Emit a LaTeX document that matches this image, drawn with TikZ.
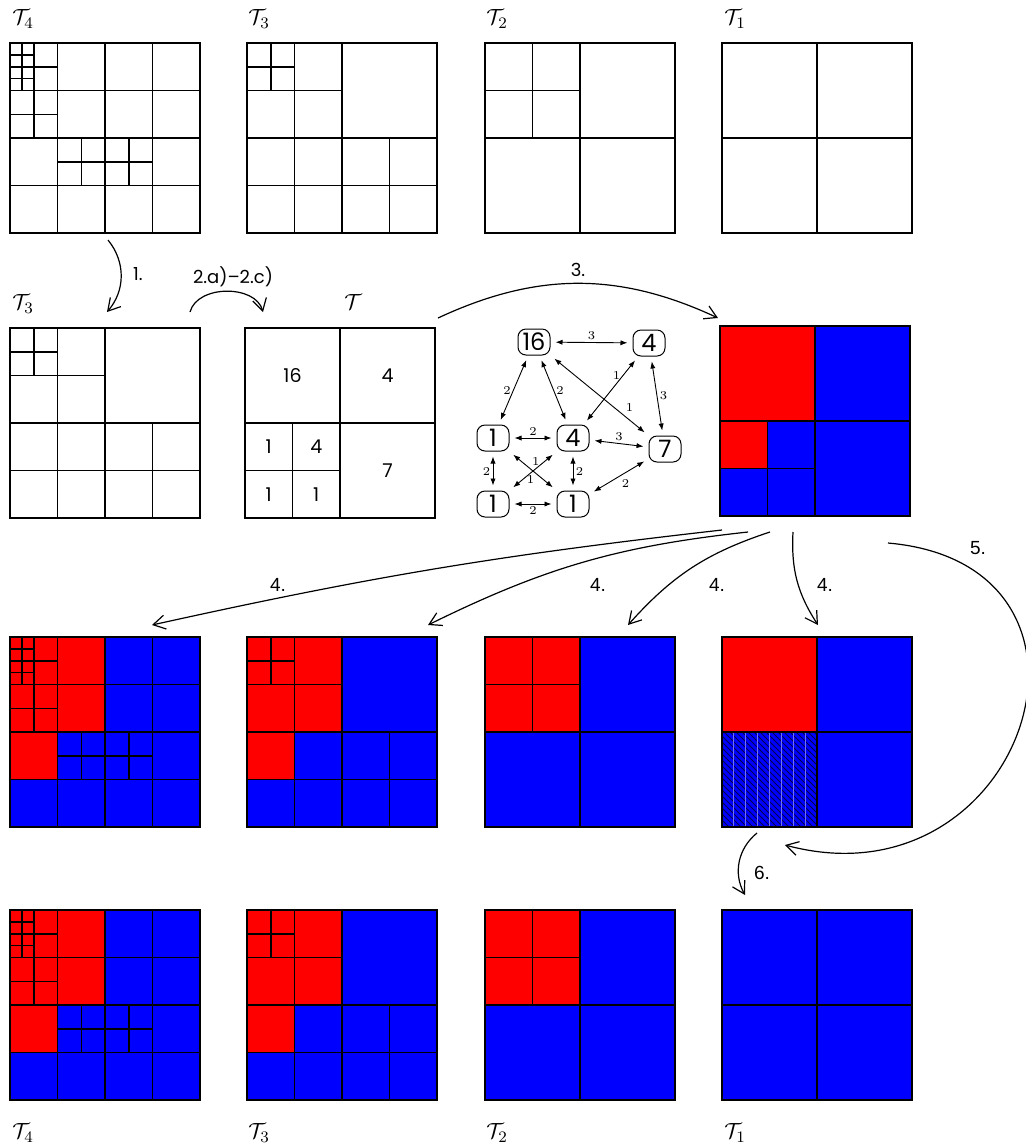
\documentclass[tikz,border=0pt]{standalone}
\usepackage{fontspec}
\usepackage{amsmath}
\usepackage{tikz}
\usetikzlibrary{arrows.meta,patterns,positioning}
\newfontfamily\numfont{Poppins}
\newfontfamily\stepfont{Liberation Sans}
\definecolor{gridblue}{RGB}{115,115,240}
\definecolor{hatchblue}{RGB}{0,0,80}

% cells of the trees: column/row/size/colour on a 16x16 raster
\def\cellsFour{0/0/1/red,1/0/1/red,0/1/1/red,1/1/1/red,0/2/1/red,1/2/1/red,0/3/1/red,1/3/1/red,2/0/2/red,2/2/2/red,4/0/4/red,0/4/2/red,2/4/2/red,0/6/2/red,2/6/2/red,4/4/4/red,8/0/4/blue,12/0/4/blue,8/4/4/blue,12/4/4/blue,0/8/4/red,4/8/2/blue,6/8/2/blue,4/10/2/blue,6/10/2/blue,0/12/4/blue,4/12/4/blue,8/8/2/blue,10/8/2/blue,8/10/2/blue,10/10/2/blue,12/8/4/blue,8/12/4/blue,12/12/4/blue}
\def\cellsThree{0/0/2/red,2/0/2/red,0/2/2/red,2/2/2/red,4/0/4/red,0/4/4/red,4/4/4/red,8/0/8/blue,0/8/4/red,4/8/4/blue,0/12/4/blue,4/12/4/blue,8/8/4/blue,12/8/4/blue,8/12/4/blue,12/12/4/blue}
\def\cellsTwo{0/0/4/red,4/0/4/red,0/4/4/red,4/4/4/red,8/0/8/blue,0/8/8/blue,8/8/8/blue}
\def\cellsOne{0/0/8/red,8/0/8/blue,0/8/8/blue,8/8/8/blue}
\def\cellsOneBlue{0/0/8/blue,8/0/8/blue,0/8/8/blue,8/8/8/blue}
\def\cellsMerged{0/0/8/red,8/0/8/blue,0/8/4/red,4/8/4/blue,0/12/4/blue,4/12/4/blue,8/8/8/blue}

\newcommand{\plaintree}[3]{%
  \begin{scope}[shift={(#1,-#2)}, panel]
    \foreach \cx/\cy/\cs/\cc in #3 {\draw[cellline] (\cx,\cy) rectangle ++(\cs,\cs);}
  \end{scope}}
\newcommand{\colortree}[3]{%
  \begin{scope}[shift={(#1,-#2)}, panel]
    \foreach \cx/\cy/\cs/\cc in #3 {\fill[\cc] (\cx,\cy) rectangle ++(\cs,\cs);}
    \foreach \cx/\cy/\cs/\cc in #3 {\draw[cellline] (\cx,\cy) rectangle ++(\cs,\cs);}
  \end{scope}}

\begin{document}
\begin{tikzpicture}[x=0.5pt, y=0.5pt]
    \tikzset{
        cellline/.style={draw=black, line width=0.75pt},
        panel/.style={x=5.9375pt, y=-5.9375pt},
        treelabel/.style={anchor=west, inner sep=0pt, font=\fontsize{11}{11}\selectfont},
        steplabel/.style={font=\stepfont\fontsize{9.5}{9.5}\selectfont},
        steplabelb/.style={font=\numfont\fontsize{9}{9}\selectfont},
        wnum/.style={font=\numfont\fontsize{9.5}{9.5}\selectfont},
        gnode/.style={
            draw, rounded corners=4pt,
            minimum width=16pt, minimum height=13pt,
            inner sep=1.5pt, line width=0.5pt,
            font=\numfont\fontsize{12}{12}\selectfont
        },
        gedge/.style={
            {Latex[length=3.5pt,width=2.6pt]}-{Latex[length=3.5pt,width=2.6pt]},
            line width=0.45pt, shorten <=2.5pt, shorten >=2.5pt
        },
        glabel/.style={font=\fontsize{6}{6}\selectfont, inner sep=1.2pt},
        proc/.style={-{Straight Barb[length=6pt,width=7pt]}, line width=0.6pt},
    }
    \useasboundingbox (0,0) rectangle (1026,-1148);

    % ==== Row 1: the input trees ====
    \node[treelabel] (t4a) at (12,-19) {$\mathcal{T}_4$};
    \node[treelabel] (t3a) at (248,-19) {$\mathcal{T}_3$};
    \node[treelabel] (t2a) at (486,-19) {$\mathcal{T}_2$};
    \node[treelabel] (t1a) at (724,-19) {$\mathcal{T}_1$};
    \plaintree{10}{43}{\cellsFour}
    \plaintree{247}{43}{\cellsThree}
    \plaintree{485}{43}{\cellsTwo}
    \plaintree{722}{43}{\cellsOne}

    % ==== Row 2: coarsest tree, weights, graph, partition ====
    \node[treelabel] (t3b) at (12,-304) {$\mathcal{T}_3$};
    \node[treelabel, anchor=center] (tw) at (353,-302) {$\mathcal{T}$};
    \plaintree{10}{328}{\cellsThree}
    \plaintree{245}{328}{\cellsMerged}
    \begin{scope}[shift={(245,-328)}, panel]
        \node[wnum] (w16) at (4,4) {16};
        \node[wnum] (w4a) at (12,4) {4};
        \node[wnum] (w1a) at (2,10) {1};
        \node[wnum] (w4b) at (6,10) {4};
        \node[wnum] (w1b) at (2,14) {1};
        \node[wnum] (w1c) at (6,14) {1};
        \node[wnum] (w7) at (12,12) {7};
    \end{scope}

    \node[gnode] (g16) at (534,-342) {16};
    \node[gnode] (g4a) at (649,-343) {4};
    \node[gnode] (g1a) at (493,-438) {1};
    \node[gnode] (g4b) at (573,-438) {4};
    \node[gnode] (g7) at (665,-449) {7};
    \node[gnode] (g1b) at (493,-504) {1};
    \node[gnode] (g1c) at (573,-504) {1};
    \draw[gedge] (g16) -- node[glabel, above] {3} (g4a);
    \draw[gedge] (g16) -- node[glabel, left] {2} (g1a);
    \draw[gedge] (g16) -- node[glabel, right] {2} (g4b);
    \draw[gedge] (g16) -- node[glabel, pos=.74, above right] {1} (g7);
    \draw[gedge] (g4b) -- node[glabel, pos=.72, left] {1} (g4a);
    \draw[gedge] (g4a) -- node[glabel, right] {3} (g7);
    \draw[gedge] (g1a) -- node[glabel, above] {2} (g4b);
    \draw[gedge] (g4b) -- node[glabel, above] {3} (g7);
    \draw[gedge] (g1a) -- node[glabel, left] {2} (g1b);
    \draw[gedge] (g4b) -- node[glabel, right] {2} (g1c);
    \draw[gedge] (g1a) -- node[glabel, pos=.42, above right] {1} (g1c);
    \draw[gedge] (g4b) -- node[glabel, pos=.55, below] {1} (g1b);
    \draw[gedge] (g1b) -- node[glabel, below] {2} (g1c);
    \draw[gedge] (g1c) -- node[glabel, below right] {2} (g7);

    \colortree{720}{326}{\cellsMerged}

    % ==== Row 3: partitioned trees ====
    \colortree{10}{637}{\cellsFour}
    \colortree{247}{637}{\cellsThree}
    \colortree{485}{637}{\cellsTwo}
    \colortree{722}{637}{\cellsOne}
    \begin{scope}[shift={(722,-637)}, panel]
        \fill[pattern=north west lines, pattern color=hatchblue] (0,8) rectangle (8,16);
        \draw[gridblue, line width=0.4pt] (0,8) grid[step=1] (8,16);
        \draw[cellline] (0,8) rectangle (8,16);
        \draw[cellline] (0,0) rectangle (16,16);
    \end{scope}

    % ==== Row 4: result ====
    \colortree{10}{910}{\cellsFour}
    \colortree{247}{910}{\cellsThree}
    \colortree{485}{910}{\cellsTwo}
    \colortree{722}{910}{\cellsOneBlue}
    \node[treelabel] (t4d) at (12,-1133) {$\mathcal{T}_4$};
    \node[treelabel] (t3d) at (248,-1133) {$\mathcal{T}_3$};
    \node[treelabel] (t2d) at (486,-1133) {$\mathcal{T}_2$};
    \node[treelabel] (t1d) at (724,-1133) {$\mathcal{T}_1$};

    % ==== Steps ====
    \coordinate (s1a) at (108,-240);  \coordinate (s1b) at (107,-312);
    \coordinate (s2a) at (190,-312);  \coordinate (s2b) at (263,-312);
    \coordinate (s3a) at (438,-318);  \coordinate (s3b) at (718,-318);
    \draw[proc] (s1a) to[bend left=40] (s1b);
    \draw[proc] (s2a) to[bend left=75] (s2b);
    \draw[proc] (s3a) to[bend left=25] (s3b);
    \node[steplabelb] (l1) at (138,-274) {1.};
    \node[steplabelb] (l2) at (233,-277) {2.a)–2.c)};
    \node[steplabelb] (l3) at (578,-270) {3.};

    \coordinate (s4a) at (722,-530);  \coordinate (s4b) at (152,-625);
    \coordinate (s4c) at (748,-532);  \coordinate (s4d) at (428,-625);
    \coordinate (s4e) at (770,-532);  \coordinate (s4f) at (628,-625);
    \coordinate (s4g) at (793,-532);  \coordinate (s4h) at (818,-625);
    \draw[proc] (s4a) to[bend right=3] (s4b);
    \draw[proc] (s4c) to[bend right=10] (s4d);
    \draw[proc] (s4e) to[bend right=15] (s4f);
    \draw[proc] (s4g) to[bend right=18] (s4h);
    \node[steplabel] (l4a) at (278,-585) {4.};
    \node[steplabel] (l4b) at (598,-585) {4.};
    \node[steplabel] (l4c) at (717,-585) {4.};
    \node[steplabel] (l4d) at (825,-585) {4.};

    \coordinate (s5a) at (888,-543);  \coordinate (s5b) at (785,-845);
    \draw[proc] (s5a) to[out=-5, in=-15, looseness=2] (s5b);
    \node[steplabel] (l5) at (978,-548) {5.};

    \coordinate (s6a) at (757,-833);  \coordinate (s6b) at (745,-895);
    \draw[proc] (s6a) to[bend right=40] (s6b);
    \node[steplabel] (l6) at (762,-873) {6.};
\end{tikzpicture}
\end{document}
